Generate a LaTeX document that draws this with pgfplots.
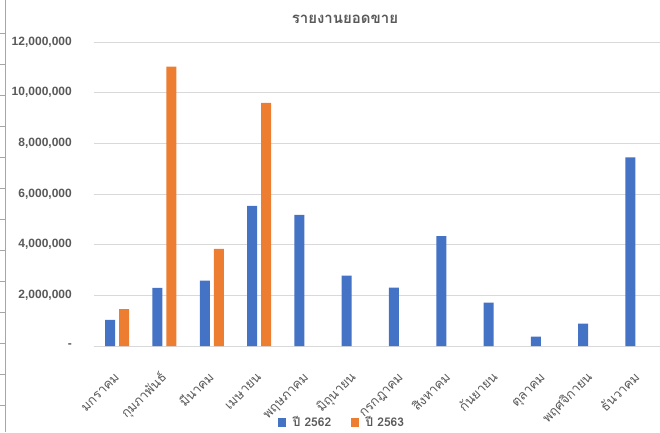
\documentclass[border=0pt]{standalone}
\usepackage{pgfplots}
\pgfplotsset{compat=1.18}
\usepackage{fontspec}
\setmainfont{Liberation Sans}
\newfontfamily\thaifont[Script=Thai]{Loma}
\definecolor{cblue}{RGB}{68,114,196}
\definecolor{corange}{RGB}{237,125,49}
\definecolor{txtgray}{RGB}{89,89,89}
\definecolor{gridgray}{RGB}{217,217,217}
\begin{document}
\begin{tikzpicture}[x=1bp,y=1bp]
\path[use as bounding box] (0,0) rectangle (660,432);
% spreadsheet edge at left
\draw[gray!70, line width=0.8bp] (5,0) -- (5,432);
\foreach \yy in {33,64,95,126,157,188,219,250,281,312,343,374,405} {
  \draw[gray!70, line width=0.8bp] (0,432-\yy) -- (5,432-\yy);
}
\node[font=\thaifont\bfseries\fontsize{15bp}{18bp}\selectfont, text=txtgray] at (345,432-19) {รายงานยอดขาย};
\begin{axis}[
  at={(93.5bp,86bp)}, anchor=south west,
  scale only axis, width=566.5bp, height=304bp,
  xmin=-0.5, xmax=11.477, ymin=0, ymax=12000000,
  ybar=4bp, bar width=10bp,
  axis line style={draw=none},
  major tick length=0pt,
  scaled y ticks=false,
  ymajorgrids, grid style={gridgray, line width=0.8bp},
  ytick={0,2000000,4000000,6000000,8000000,10000000,12000000},
  yticklabels={-\hspace{8bp},{2,000,000},{4,000,000},{6,000,000},{8,000,000},{10,000,000},{12,000,000}},
  yticklabel style={anchor=east, inner sep=0pt, xshift=-21.5bp, font=\bfseries\fontsize{12bp}{14bp}\selectfont, text=txtgray},
  xtick={0,...,11},
  xticklabels={มกราคม,กุมภาพันธ์,มีนาคม,เมษายน,พฤษภาคม,มิถุนายน,กรกฎาคม,สิงหาคม,กันยายน,ตุลาคม,พฤศจิกายน,ธันวาคม},
  xticklabel style={xshift=3bp, yshift=-32bp, rotate=45, anchor=base east, inner sep=0pt, font=\thaifont\fontsize{13bp}{15bp}\selectfont, text=txtgray},
  legend columns=2,
  legend style={at={(0.439,-0.25)}, anchor=center, draw=none, fill=none,
    font=\thaifont\bfseries\fontsize{12bp}{14bp}\selectfont, text=txtgray,
    /tikz/every odd column/.append style={column sep=5bp},
    /tikz/every even column/.append style={column sep=18bp}},
  legend image code/.code={\fill[#1] (0bp,-4.5bp) rectangle (7.5bp,4.5bp);},
]
\addplot[draw=none, fill=cblue] coordinates {
(0,1030000) (1,2290000) (2,2580000) (3,5530000) (4,5180000) (5,2780000)
(6,2300000) (7,4340000) (8,1710000) (9,370000) (10,880000) (11,7450000)};
\addplot[draw=none, fill=corange] coordinates {
(0,1460000) (1,11030000) (2,3830000) (3,9600000)};
\legend{ปี 2562, ปี 2563}
\end{axis}
\end{tikzpicture}
\end{document}
